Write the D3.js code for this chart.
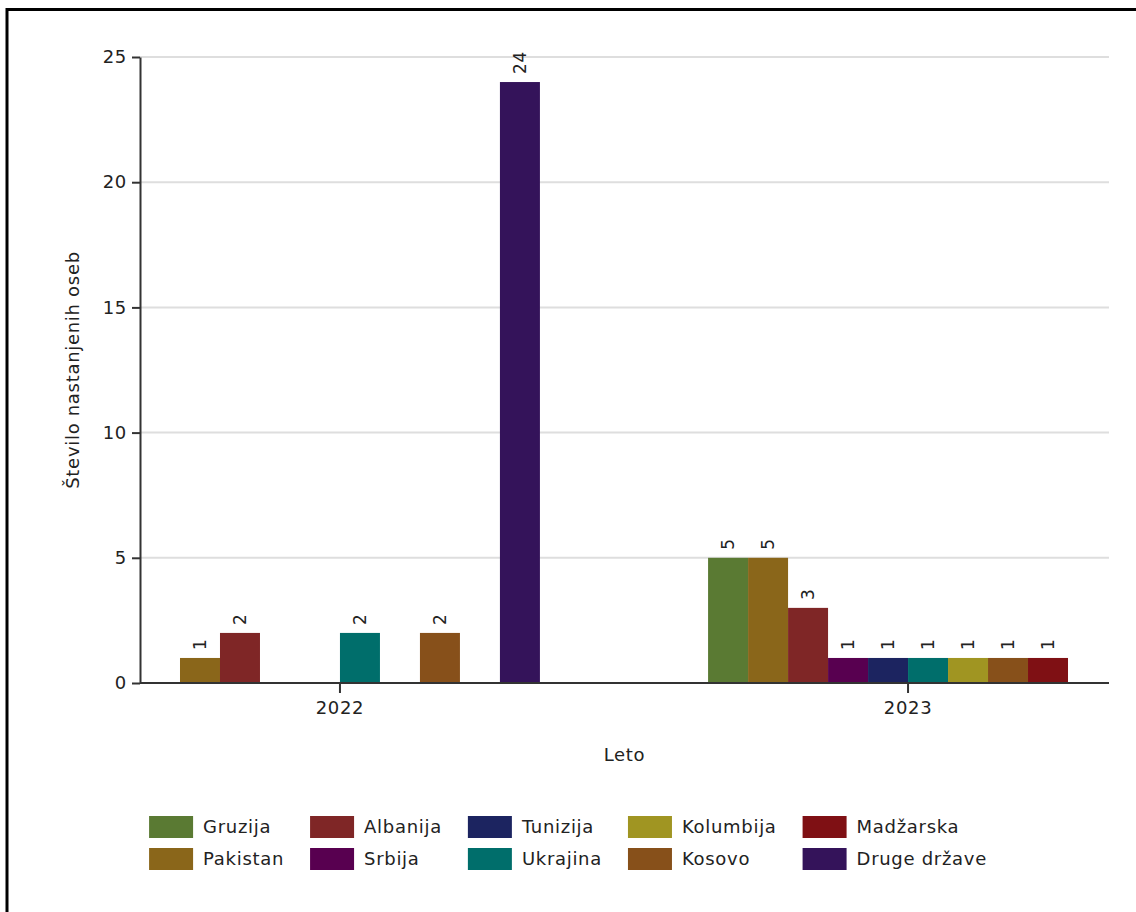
<!DOCTYPE html>
<html>
<head>
<meta charset="utf-8">
<script src="https://cdn.jsdelivr.net/npm/d3@7"></script>
<style>
  html, body { margin: 0; padding: 0; background: #fff; }
  svg text { font-family: "DejaVu Sans", sans-serif; fill: #222; letter-spacing: 0.7px; }
</style>
</head>
<body>
<svg id="chart" width="1136" height="912"></svg>
<script>
// data
var years = ["2022", "2023"];
var countries = ["Gruzija", "Pakistan", "Albanija", "Srbija", "Tunizija", "Ukrajina", "Kolumbija", "Kosovo", "Madžarska", "Druge države"];
var values2022 = [null, 1, 2, 0, 0, 2, 0, 2, 0, 24];
var values2023 = [5, 5, 3, 1, 1, 1, 1, 1, 1, null];
var colors = ["#5a7a33", "#8a661a", "#7f2626", "#580050", "#1c2460", "#006e6b", "#a09522", "#87501a", "#7f1014", "#34135a"];
var yTicks = [0, 5, 10, 15, 20, 25];
var yTitle = "Število nastanjenih oseb";
var xTitle = "Leto";

var valuesByYear = { "2022": values2022, "2023": values2023 };

var svg = d3.select("#chart");

// frame (right and bottom edges fall outside the picture)
svg.append("rect")
  .attr("x", 7).attr("y", 9.5)
  .attr("width", 1200).attr("height", 1000)
  .attr("fill", "none").attr("stroke", "#000").attr("stroke-width", 3);

var plotLeft = 140, plotRight = 1109, plotTop = 57, plotBottom = 683;

var x0 = d3.scaleBand().domain(years).range([plotLeft, 1108]).paddingInner(0.296).paddingOuter(0);
var x1 = d3.scaleBand().domain(countries).range([0, x0.bandwidth()]);
var y = d3.scaleLinear().domain([0, 25]).range([plotBottom, plotTop]);

// grid
svg.append("g").selectAll("line")
  .data(yTicks.filter(function (d) { return d > 0; }))
  .enter().append("line")
  .attr("x1", plotLeft).attr("x2", plotRight)
  .attr("y1", function (d) { return y(d); })
  .attr("y2", function (d) { return y(d); })
  .attr("stroke", "#dedede").attr("stroke-width", 2);

// bars
var groups = svg.append("g").selectAll("g")
  .data(years)
  .enter().append("g")
  .attr("transform", function (d) { return "translate(" + x0(d) + ",0)"; });

var cells = groups.selectAll("g")
  .data(function (yr) {
    return countries.map(function (c, i) { return { country: c, i: i, value: valuesByYear[yr][i] }; })
      .filter(function (d) { return d.value !== null && d.value > 0; });
  })
  .enter().append("g");

cells.append("rect")
  .attr("x", function (d) { return x1(d.country); })
  .attr("width", x1.bandwidth())
  .attr("y", function (d) { return y(d.value); })
  .attr("height", function (d) { return y(0) - y(d.value); })
  .attr("fill", function (d) { return colors[d.i]; });

cells.append("text")
  .attr("transform", function (d) {
    return "translate(" + (x1(d.country) + x1.bandwidth() / 2) + "," + (y(d.value) - 8) + ") rotate(-90)";
  })
  .attr("dy", "0.35em")
  .style("font-size", "17px")
  .text(function (d) { return d.value; });

// axes
var yAxis = svg.append("g")
  .attr("transform", "translate(" + plotLeft + ",0)")
  .call(d3.axisLeft(y).tickValues(yTicks).tickSize(8).tickSizeOuter(0).tickPadding(5));
yAxis.select(".domain").attr("stroke", "#333").attr("stroke-width", 2);
yAxis.selectAll(".tick line").attr("stroke", "#333").attr("stroke-width", 2);
yAxis.selectAll(".tick text").style("font-size", "18px").style("font-family", "DejaVu Sans");

var xAxis = svg.append("g")
  .attr("transform", "translate(0," + plotBottom + ")")
  .call(d3.axisBottom(x0).tickSize(10).tickSizeOuter(0).tickPadding(8));
xAxis.select(".domain").attr("d", "M" + plotLeft + ",0H" + plotRight).attr("stroke", "#333").attr("stroke-width", 2);
xAxis.selectAll(".tick line").attr("stroke", "#333").attr("stroke-width", 2);
xAxis.selectAll(".tick text").style("font-size", "18px").style("font-family", "DejaVu Sans");

// titles
svg.append("text")
  .attr("transform", "translate(79,370) rotate(-90)")
  .attr("text-anchor", "middle")
  .style("font-size", "18px")
  .text(yTitle);

svg.append("text")
  .attr("x", (plotLeft + plotRight) / 2).attr("y", 761)
  .attr("text-anchor", "middle")
  .style("font-size", "18px")
  .text(xTitle);

// legend, two rows, filled column by column
var legend = svg.append("g");
var rows = 2, swW = 44, swH = 22, colGap = 26, rowStep = 32;
var cols = Math.ceil(countries.length / rows);
var items = legend.selectAll("g")
  .data(countries)
  .enter().append("g");
items.append("rect")
  .attr("width", swW).attr("height", swH)
  .attr("fill", function (d, i) { return colors[i]; });
items.append("text")
  .attr("x", swW + 10).attr("y", swH / 2)
  .attr("dy", "0.35em")
  .style("font-size", "18px")
  .text(function (d) { return d; });

var colX = [], cx = 0;
for (var c = 0; c < cols; c++) {
  colX.push(cx);
  var w = 0;
  items.filter(function (d, i) { return Math.floor(i / rows) === c; })
    .select("text").each(function () { w = Math.max(w, this.getComputedTextLength()); });
  cx += swW + 10 + w + colGap;
}
var totalW = cx - colGap;
items.attr("transform", function (d, i) {
  return "translate(" + colX[Math.floor(i / rows)] + "," + (i % rows) * rowStep + ")";
});
legend.attr("transform", "translate(" + (568 - totalW / 2) + ",816)");
</script>
</body>
</html>
